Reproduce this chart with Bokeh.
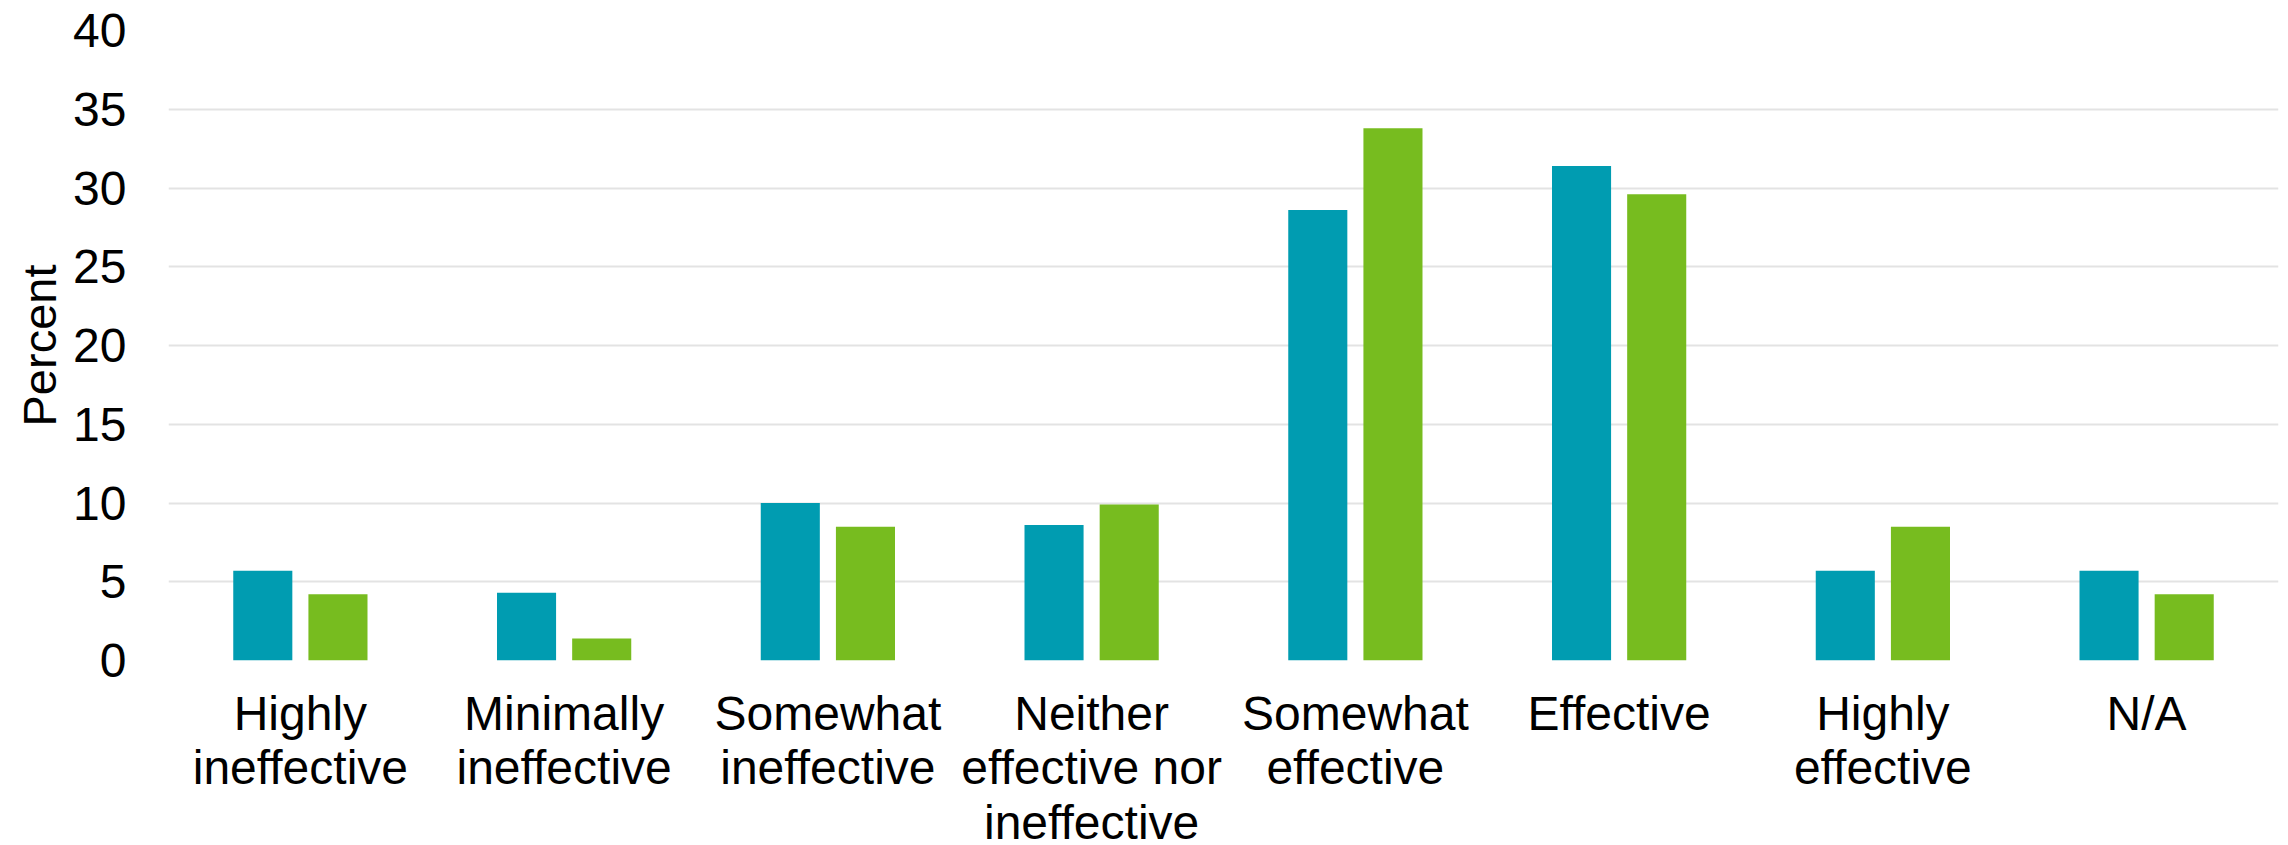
from bokeh.plotting import figure
from bokeh.models import ColumnDataSource, FactorRange, Range1d, FixedTicker
from bokeh.transform import dodge
from bokeh.embed import file_html
from bokeh.resources import INLINE

categories = [
    "Highly\nineffective",
    "Minimally\nineffective",
    "Somewhat\nineffective",
    "Neither\neffective nor\nineffective",
    "Somewhat\neffective",
    "Effective",
    "Highly\neffective",
    "N/A",
]
series_a = [5.7, 4.3, 10.0, 8.6, 28.6, 31.4, 5.7, 5.7]
series_b = [4.2, 1.4, 8.5, 9.9, 33.8, 29.6, 8.5, 4.2]
y_ticks = [0, 5, 10, 15, 20, 25, 30, 35, 40]

TEAL = "#009CB1"
GREEN = "#77BC1F"
FONT = "Liberation Sans"

source = ColumnDataSource(data=dict(cat=categories, a=series_a, b=series_b))

p = figure(
    frame_width=2110, frame_height=630,
    x_range=FactorRange(*categories, range_padding=0, factor_padding=0),
    y_range=Range1d(0, 40),
    output_backend="svg", toolbar_location=None,
    min_border_left=168, min_border_right=10, min_border_top=30, min_border_bottom=180,
)

p.vbar(x=dodge("cat", -0.1425, range=p.x_range), top="a", width=0.224, source=source,
       fill_color=TEAL, line_color=None)
p.vbar(x=dodge("cat", 0.1425, range=p.x_range), top="b", width=0.224, source=source,
       fill_color=GREEN, line_color=None)

p.outline_line_color = None
p.xgrid.grid_line_color = None
p.ygrid.grid_line_color = "#e3e3e3"
p.ygrid.grid_line_width = 2
p.yaxis.ticker = FixedTicker(ticks=y_ticks)

p.yaxis.axis_line_color = None
p.yaxis.major_tick_line_color = None
p.yaxis.minor_tick_line_color = None
p.yaxis.major_label_text_font = FONT
p.yaxis.major_label_text_font_size = "48px"
p.yaxis.major_label_text_color = "#000000"
p.yaxis.major_label_standoff = 36
p.yaxis.axis_label = "Percent"
p.yaxis.axis_label_text_font = FONT
p.yaxis.axis_label_text_font_size = "47px"
p.yaxis.axis_label_text_font_style = "normal"
p.yaxis.axis_label_text_color = "#000000"
p.yaxis.axis_label_standoff = 4

p.xaxis.axis_line_color = None
p.xaxis.major_tick_line_color = None
p.xaxis.minor_tick_line_color = None
p.xaxis.major_label_text_font = FONT
p.xaxis.major_label_text_font_size = "48px"
p.xaxis.major_label_text_color = "#000000"
p.xaxis.major_label_text_line_height = 1.03
p.xaxis.major_label_standoff = 20

open("out.html", "w").write(file_html(p, INLINE))
